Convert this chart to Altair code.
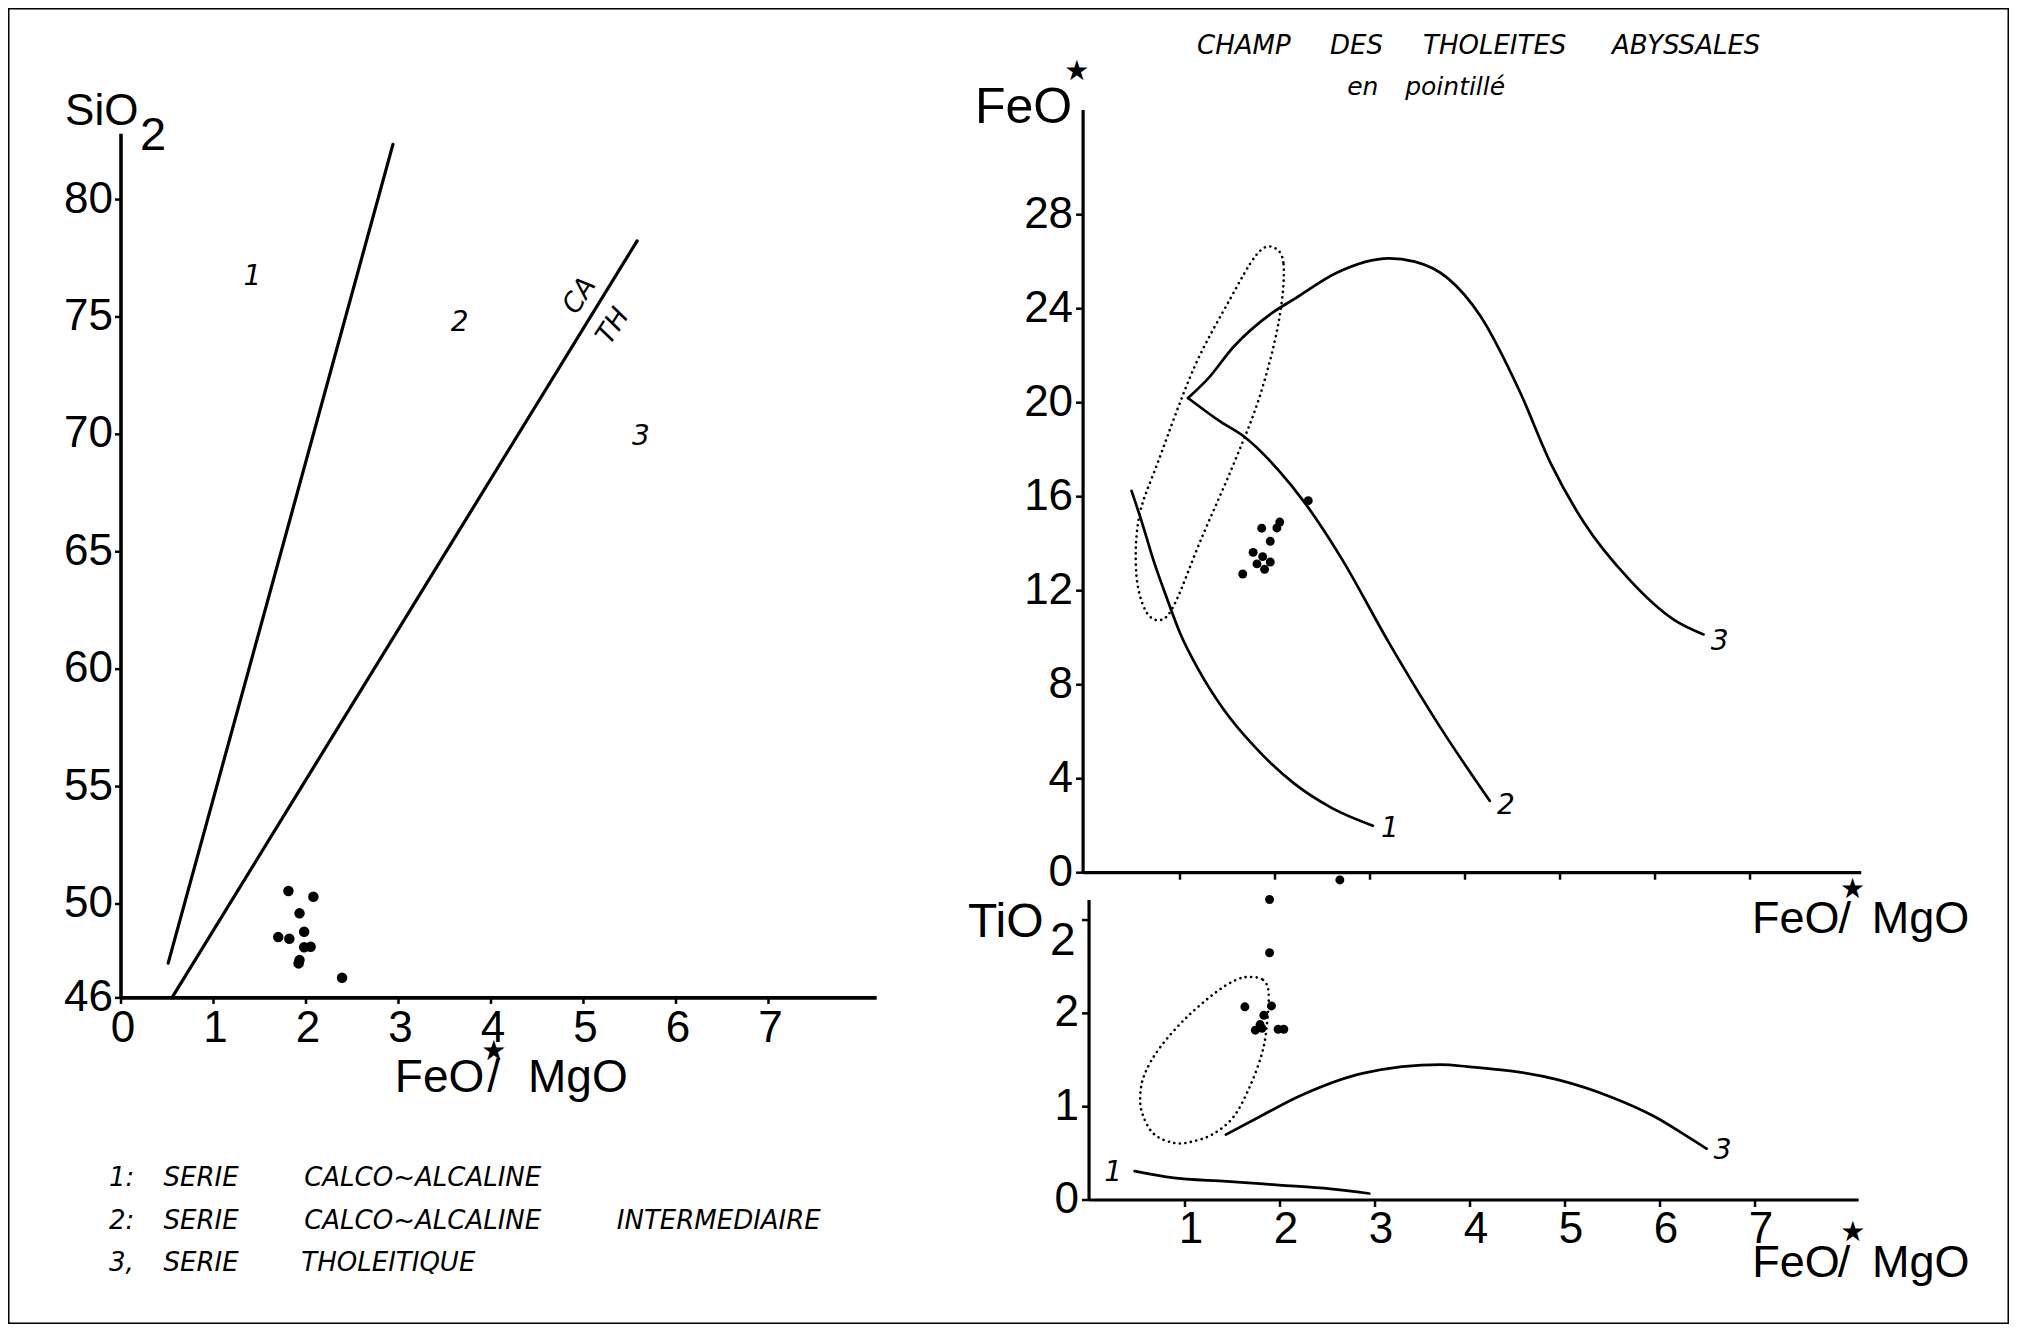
import altair as alt
import pandas as pd

# ---------------- data ----------------
# Left panel: SiO2 vs FeO*/MgO
left_line1_x = [0.51, 2.94]
left_line1_y = [47.48, 82.35]
left_line2_x = [0.55, 5.58]
left_line2_y = [46.0, 78.24]
left_pts_x = [1.81, 2.08, 1.93, 1.70, 1.82, 1.98, 1.98, 2.05, 1.93, 1.92, 2.39]
left_pts_y = [50.55, 50.31, 49.6, 48.59, 48.52, 48.82, 48.16, 48.18, 47.61, 47.47, 46.86]
left_ticks_y = [46, 50, 55, 60, 65, 70, 75, 80]
left_ticks_x = [0, 1, 2, 3, 4, 5, 6, 7]
left_xlim = [0, 8.17]
left_ylim = [46, 82.8]

# Right top panel: FeO* vs FeO*/MgO
top_c1_x = [0.49, 0.60, 0.72, 0.86, 1.00, 1.20, 1.45, 1.80, 2.20, 2.60, 3.03]
top_c1_y = [16.25, 14.9, 13.3, 11.7, 10.2, 8.6, 7.0, 5.3, 3.8, 2.75, 2.0]
top_c2_x = [1.085, 1.43, 1.67, 2.04, 2.31, 2.69, 3.20, 3.75, 4.26]
top_c2_y = [20.2, 19.18, 18.57, 17.11, 15.76, 13.44, 9.78, 6.12, 3.06]
top_c3_x = [1.085, 1.29, 1.56, 1.97, 2.21, 2.65, 3.20, 3.47, 3.82, 4.16, 4.57, 4.91, 5.25, 5.73, 6.20, 6.51]
top_c3_y = [20.2, 21.0, 22.36, 23.82, 24.43, 25.53, 26.14, 26.0, 25.29, 23.7, 20.53, 17.35, 14.91, 12.47, 10.76, 10.14]
top_ell_x = [1.97, 2.09, 2.04, 1.84, 1.56, 1.22, 0.95, 0.80, 0.64, 0.54, 0.57, 0.78, 1.15, 1.53, 1.80]
top_ell_y = [26.63, 25.9, 23.46, 20.28, 17.35, 14.17, 11.49, 10.76, 11.13, 12.71, 15.15, 17.6, 21.5, 24.43, 26.27]
top_pts_x = [2.35, 2.05, 2.02, 1.86, 1.95, 1.77, 1.87, 1.95, 1.81, 1.89, 1.66]
top_pts_y = [15.83, 14.92, 14.67, 14.66, 14.1, 13.63, 13.45, 13.22, 13.14, 12.91, 12.71]
top_ticks_y = [0, 4, 8, 12, 16, 20, 24, 28]
top_ticks_x = [1, 2, 3, 4, 5, 6, 7]
top_xlim = [-0.02, 8.17]
top_ylim = [0, 32.45]

# Right bottom panel: TiO2 vs FeO*/MgO
bot_c1_x = [0.47, 0.86, 1.44, 1.99, 2.53, 2.94]
bot_c1_y = [0.31, 0.24, 0.20, 0.16, 0.12, 0.07]
bot_c3_x = [1.43, 1.78, 2.23, 2.88, 3.69, 3.97, 4.92, 5.47, 5.95, 6.29, 6.49]
bot_c3_y = [0.70, 0.89, 1.125, 1.36, 1.45, 1.43, 1.29, 1.11, 0.89, 0.68, 0.55]
bot_ell_x = [1.68, 1.82, 1.88, 1.86, 1.81, 1.68, 1.51, 1.30, 1.09, 0.89, 0.67, 0.55, 0.53, 0.58, 0.74, 1.02, 1.33, 1.54]
bot_ell_y = [2.39, 2.36, 2.22, 1.86, 1.57, 1.21, 0.89, 0.71, 0.63, 0.61, 0.71, 0.93, 1.14, 1.36, 1.64, 1.96, 2.23, 2.36]
bot_pts_x = [1.89, 1.89, 1.63, 1.91, 1.83, 1.79, 1.74, 1.81, 1.98, 2.04, 2.63]
bot_pts_y = [3.22, 2.65, 2.07, 2.08, 1.98, 1.88, 1.82, 1.84, 1.83, 1.83, 3.43]
bot_ticks_y = [0, 1, 2, 3]
bot_labels_y = ["0", "1", "2", ""]
bot_ticks_x = [1, 2, 3, 4, 5, 6, 7]
bot_xlim = [-0.01, 8.09]
bot_ylim = [0, 3.215]

# Texts
title_words = ["CHAMP", "DES", "THOLEITES", "ABYSSALES"]
title_words_x = [1.179, 2.579, 3.558, 5.547]
subtitle_words = ["en", "pointillé"]
subtitle_words_x = [2.76, 3.37]
legend_nums = ["1:", "2:", "3,"]
legend_serie = ["SERIE", "SERIE", "SERIE"]
legend_names = ["CALCO~ALCALINE", "CALCO~ALCALINE", "THOLEITIQUE"]
legend_extra = "INTERMEDIAIRE"

# ---------------- layout ----------------
W, H = 2001, 1316
FONT = "Liberation Sans"
STAR_FONT = "DejaVu Sans"
IT_FONT = "DejaVu Sans"
TICK_FS = 44


def sc(dom, rng):
    return alt.Scale(domain=dom, range=rng, nice=False, zero=False)


# pixel ranges of each panel inside the single canvas
LX = sc(left_xlim, [113, 868.7])
LY = sc(left_ylim, [989.9, 125.8])
TX = sc(top_xlim, [1075.1, 1853.2])
TY = sc(top_ylim, [864.7, 102.1])
BX = sc(bot_xlim, [1081.05, 1850.6])
BY = sc(bot_ylim, [1192, 892])


def enc(sx, sy, **extra):
    e = dict(x=alt.X("x:Q", scale=sx, axis=None), y=alt.Y("y:Q", scale=sy, axis=None))
    e.update(extra)
    return e


def line_layer(xs, ys, sx, sy, width=3.0, interp="monotone"):
    df = pd.DataFrame({"x": xs, "y": ys})
    return alt.Chart(df).mark_line(color="black", strokeWidth=width, interpolate=interp,
                                   strokeCap="round").encode(**enc(sx, sy))


def dotted_loop(xs, ys, sx, sy):
    df = pd.DataFrame({"x": xs, "y": ys, "i": list(range(len(xs)))})
    return alt.Chart(df).mark_line(color="black", strokeWidth=2.6, interpolate="cardinal-closed",
                                   strokeDash=[0.1, 5.5], strokeCap="round").encode(
        **enc(sx, sy, order=alt.Order("i:Q")))


def pts_layer(xs, ys, sx, sy, size=75):
    df = pd.DataFrame({"x": xs, "y": ys})
    return alt.Chart(df).mark_circle(color="black", opacity=1, size=size).encode(**enc(sx, sy))


def text_layer(xs, ys, labels, sx, sy, **kw):
    df = pd.DataFrame({"x": xs, "y": ys, "t": labels})
    base = dict(color="black", font=FONT)
    base.update(kw)
    return alt.Chart(df).mark_text(**base).encode(**enc(sx, sy, text="t:N"))


def axis_layers(sx, sy, xlim, ylim, xticks, yticks, xlabels, ylabels, width=3.3,
                tick_len=7, xlab_pad=10, ylab_pad=10, xlab_dx=0):
    """Axis drawn through the panel's own scales: domain lines, ticks, labels."""
    layers = []
    x0, y0 = xlim[0], ylim[0]
    dfv = pd.DataFrame({"x": [x0], "y": [ylim[0]], "y2": [ylim[1]]})
    layers.append(alt.Chart(dfv).mark_rule(color="black", strokeWidth=width).encode(
        x=alt.X("x:Q", scale=sx, axis=None), y=alt.Y("y:Q", scale=sy, axis=None), y2="y2:Q"))
    dfh = pd.DataFrame({"x": [xlim[0]], "x2": [xlim[1]], "y": [y0]})
    layers.append(alt.Chart(dfh).mark_rule(color="black", strokeWidth=width).encode(
        x=alt.X("x:Q", scale=sx, axis=None), x2="x2:Q", y=alt.Y("y:Q", scale=sy, axis=None)))
    dfyt = pd.DataFrame({"x": [x0] * len(yticks), "y": yticks})
    layers.append(alt.Chart(dfyt).mark_rule(color="black", strokeWidth=2.5, x2Offset=-tick_len).encode(
        x=alt.X("x:Q", scale=sx, axis=None), x2="x:Q", y=alt.Y("y:Q", scale=sy, axis=None)))
    dfxt = pd.DataFrame({"x": xticks, "y": [y0] * len(xticks)})
    layers.append(alt.Chart(dfxt).mark_rule(color="black", strokeWidth=2.5, y2Offset=tick_len).encode(
        x=alt.X("x:Q", scale=sx, axis=None), y=alt.Y("y:Q", scale=sy, axis=None), y2="y:Q"))
    if ylabels:
        layers.append(text_layer([x0] * len(yticks), yticks, ylabels, sx, sy, align="right",
                                 baseline="middle", dx=-ylab_pad, fontSize=TICK_FS))
    if xlabels:
        layers.append(text_layer(xticks, [y0] * len(xticks), xlabels, sx, sy, align="center",
                                 baseline="top", dy=xlab_pad, dx=xlab_dx, fontSize=TICK_FS))
    return layers


LEG_FS = 26

# ---------------- left panel ----------------
left = alt.layer(
    *axis_layers(LX, LY, left_xlim, left_ylim, left_ticks_x, left_ticks_y,
                 [str(v) for v in left_ticks_x], [str(v) for v in left_ticks_y],
                 width=3.6, tick_len=6, xlab_pad=9, ylab_pad=8, xlab_dx=2),
    line_layer(left_line1_x, left_line1_y, LX, LY, width=3.2, interp="linear"),
    line_layer(left_line2_x, left_line2_y, LX, LY, width=3.2, interp="linear"),
    pts_layer(left_pts_x, left_pts_y, LX, LY, size=110),
    text_layer([-0.605], [83.18], ["SiO"], LX, LY, align="left", baseline="alphabetic", fontSize=44),
    text_layer([0.205], [82.11], ["2"], LX, LY, align="left", baseline="alphabetic", fontSize=47),
    text_layer([2.96, 3.96, 4.40], [42.01, 42.01, 42.01], ["FeO", "/", "MgO"], LX, LY,
               align="left", baseline="alphabetic", fontSize=46),
    text_layer([4.03], [43.7], ["★"], LX, LY, align="center", baseline="middle", fontSize=28,
               font=STAR_FONT),
    text_layer([1.42, 3.66, 5.62], [76.69, 74.73, 69.9], ["1", "2", "3"], LX, LY,
               align="center", baseline="middle", fontSize=28, fontStyle="italic", font=IT_FONT),
    text_layer([4.96, 5.32], [75.9, 74.6], ["CA", "TH"], LX, LY, align="center", baseline="middle",
               fontSize=27, fontStyle="italic", angle=303, font=IT_FONT),
    text_layer([-0.13, -0.13, -0.13], [37.99, 36.14, 34.37], legend_nums, LX, LY, align="left",
               baseline="alphabetic", fontSize=LEG_FS, fontStyle="italic", font=IT_FONT),
    text_layer([0.46, 0.46, 0.46], [37.99, 36.14, 34.37], legend_serie, LX, LY, align="left",
               baseline="alphabetic", fontSize=LEG_FS, fontStyle="italic", font=IT_FONT),
    text_layer([1.98, 1.98, 1.95], [37.99, 36.14, 34.37], legend_names, LX, LY, align="left",
               baseline="alphabetic", fontSize=LEG_FS, fontStyle="italic", font=IT_FONT),
    text_layer([5.36], [36.14], [legend_extra], LX, LY, align="left",
               baseline="alphabetic", fontSize=LEG_FS, fontStyle="italic", font=IT_FONT),
)

# ---------------- right top panel ----------------
top = alt.layer(
    *axis_layers(TX, TY, top_xlim, top_ylim, top_ticks_x, top_ticks_y,
                 None, [str(v) for v in top_ticks_y], width=3.2, tick_len=7, ylab_pad=10),
    line_layer(top_c1_x, top_c1_y, TX, TY, width=2.7),
    line_layer(top_c2_x, top_c2_y, TX, TY, width=2.7),
    line_layer(top_c3_x, top_c3_y, TX, TY, width=2.7),
    dotted_loop(top_ell_x, top_ell_y, TX, TY),
    pts_layer(top_pts_x, top_pts_y, TX, TY, size=80),
    text_layer(title_words_x, [34.84] * len(title_words), title_words, TX, TY, align="left",
               baseline="alphabetic", fontSize=26, fontStyle="italic", font=IT_FONT),
    text_layer(subtitle_words_x, [33.09] * len(subtitle_words), subtitle_words, TX, TY,
               align="left", baseline="alphabetic", fontSize=25, fontStyle="italic", font=IT_FONT),
    text_layer([-1.158], [31.9], ["FeO"], TX, TY, align="left", baseline="alphabetic", fontSize=50),
    text_layer([-0.087], [34.09], ["★"], TX, TY, align="center", baseline="middle", fontSize=28,
               font=STAR_FONT),
    text_layer([7.02, 7.93, 8.28], [-2.57, -2.57, -2.57], ["FeO", "/", "MgO"], TX, TY,
               align="left", baseline="alphabetic", fontSize=45),
    text_layer([8.08], [-0.74], ["★"], TX, TY, align="center", baseline="middle", fontSize=28,
               font=STAR_FONT),
    text_layer([3.21, 4.43, 6.68], [1.84, 2.82, 9.83], ["1", "2", "3"], TX, TY,
               align="center", baseline="middle", fontSize=28, fontStyle="italic", font=IT_FONT),
)

# ---------------- right bottom panel ----------------
bot = alt.layer(
    *axis_layers(BX, BY, bot_xlim, bot_ylim, bot_ticks_x, bot_ticks_y,
                 [str(v) for v in bot_ticks_x], bot_labels_y, width=3.2, tick_len=7,
                 xlab_pad=8, ylab_pad=10, xlab_dx=6),
    line_layer(bot_c1_x, bot_c1_y, BX, BY, width=2.7),
    line_layer(bot_c3_x, bot_c3_y, BX, BY, width=2.7),
    dotted_loop(bot_ell_x, bot_ell_y, BX, BY),
    pts_layer(bot_pts_x, bot_pts_y, BX, BY, size=80),
    text_layer([-1.284], [2.82], ["TiO"], BX, BY, align="left", baseline="alphabetic", fontSize=48),
    text_layer([-0.42], [2.63], ["2"], BX, BY, align="left", baseline="alphabetic", fontSize=46),
    text_layer([6.97, 7.87, 8.23], [-0.825, -0.825, -0.825], ["FeO", "/", "MgO"], BX, BY,
               align="left", baseline="alphabetic", fontSize=45),
    text_layer([8.03], [-0.354], ["★"], BX, BY, align="center", baseline="middle", fontSize=28,
               font=STAR_FONT),
    text_layer([6.66, 0.245], [0.52, 0.29], ["3", "1"], BX, BY,
               align="center", baseline="middle", fontSize=28, fontStyle="italic", font=IT_FONT),
)

chart = alt.layer(left, top, bot).resolve_scale(
    x="independent", y="independent"
).properties(
    width=W, height=H, padding=0,
    autosize=alt.AutoSizeParams(type="none"),
    background="white",
).configure_view(stroke="black", strokeWidth=3)

chart.save("out.html", embed_options={"renderer": "svg", "actions": False})
